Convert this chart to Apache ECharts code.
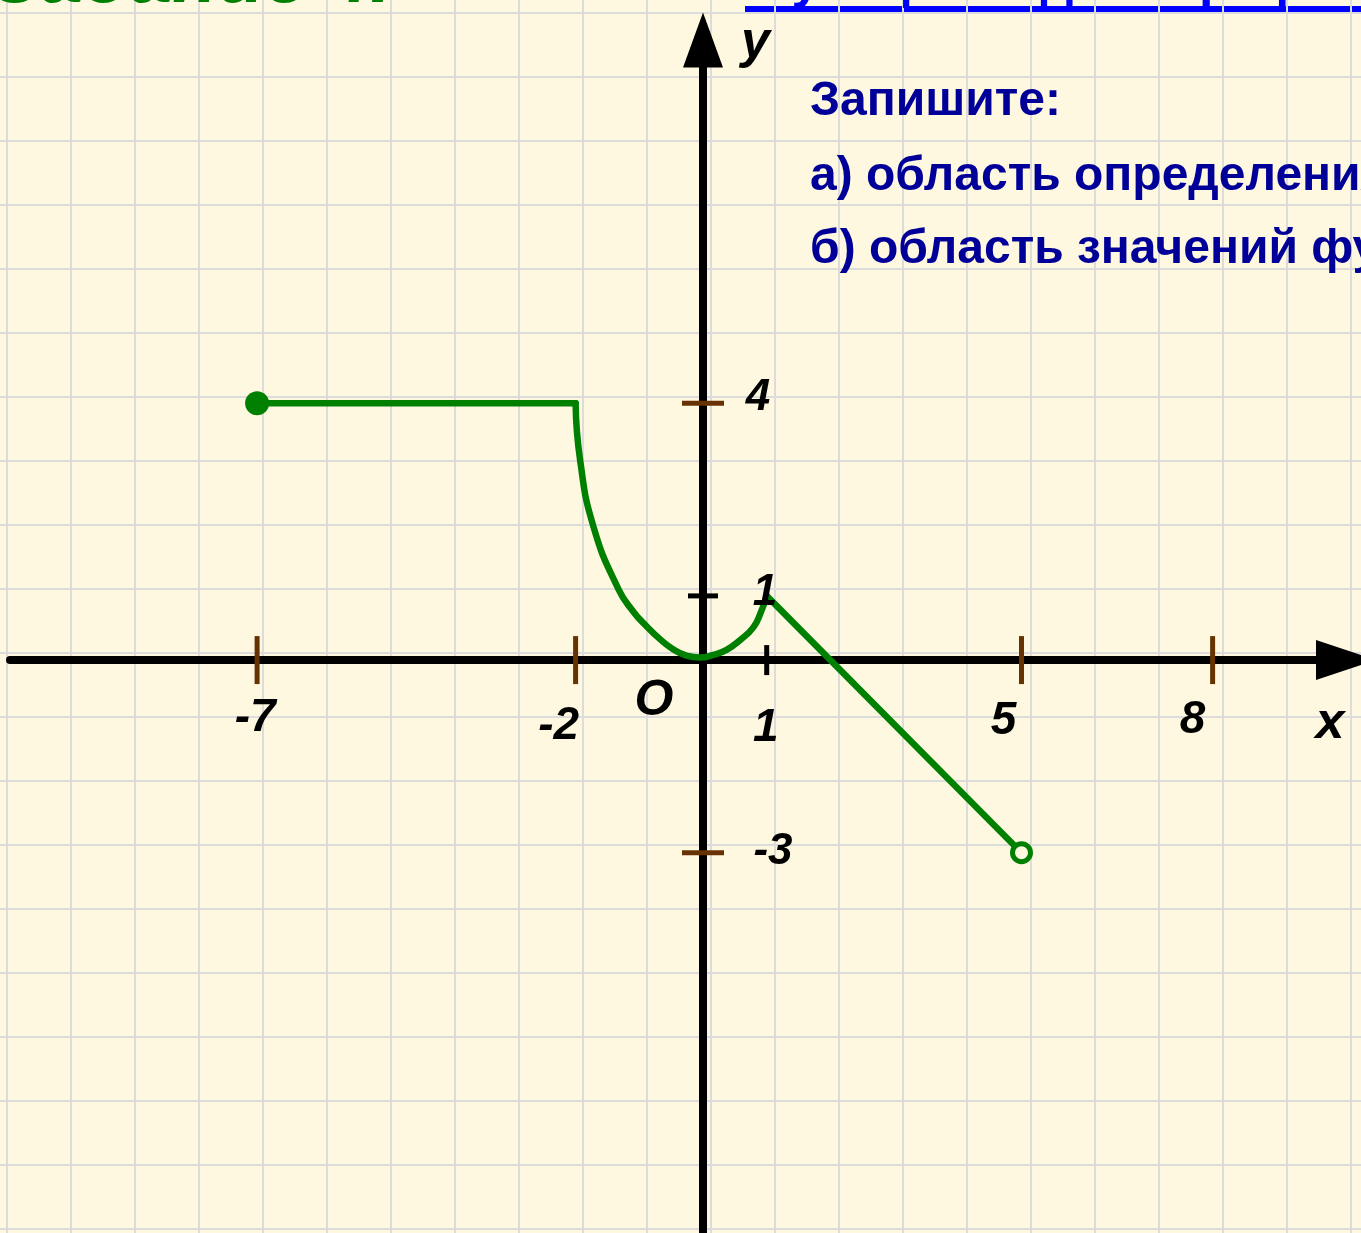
<!DOCTYPE html>
<html lang="ru">
<head>
<meta charset="UTF-8" />
<title>Функция задана графиком</title>
<script src="https://cdn.jsdelivr.net/npm/echarts@6.0.0/dist/echarts.min.js"></script>
<style>
  html, body { margin: 0; padding: 0; background: #fff8e1; }
  #chart { width: 1361px; height: 1233px; }
</style>
</head>
<body>
<div id="chart"></div>
<script>
  // куски графика функции
  var flatPart = [[-7, 4], [-2, 4]];
  var curvePart = [
    [-2, 4], [-1.93, 3.12], [-1.72, 2.08], [-1.33, 1.11], [-1.09, 0.75],
    [-0.88, 0.52], [-0.68, 0.33], [-0.47, 0.17], [-0.26, 0.07], [-0.05, 0.04],
    [0.16, 0.08], [0.37, 0.16], [0.58, 0.31], [0.79, 0.51], [0.91, 0.75], [1, 1]
  ];
  var slopePart = [[1, 1], [5, -3]];
  var closedEnd = [[-7, 4]];
  var openEnd = [[5, -3]];

  // отметки на осях
  var xTicks = [-7, -2, 5, 8];
  var xTickOne = [1];
  var yTicks = [4, -3];
  var yTickOne = [1];
  var xLabels = [-7, -2, 1, 5, 8];
  var yLabels = [4, 1, -3];

  var FONT = 'Liberation Sans';
  var GREEN = '#008000';
  var BROWN = '#663300';
  var PAPER = '#fff8e1';

  // сдвиг подписей от своих штрихов, px (как на слайде)
  var xLabelShift = { '-7': [-2, 58], '-2': [-17, 66], '1': [-1, 68], '5': [-18, 61], '8': [-20, 60] };
  var yLabelShift = { '4': [55, -5], '1': [62, -3], '-3': [70, -1] };

  var chart = echarts.init(document.getElementById('chart'));

  var italicBold = { fontFamily: FONT, fontStyle: 'italic', fontWeight: 'bold', color: '#000' };

  function tickSeries(points, size, color) {
    return {
      type: 'scatter',
      data: points,
      symbol: 'rect',
      symbolSize: size,
      itemStyle: { color: color, opacity: 1 },
      silent: true,
      z: 3
    };
  }

  function curveSeries(points, smooth) {
    return {
      type: 'line',
      data: points,
      smooth: smooth,
      symbol: 'none',
      lineStyle: { color: GREEN, width: 6.5, cap: 'round', join: 'round' },
      silent: true,
      z: 4
    };
  }

  function labelSeries(items, fontSize) {
    return {
      type: 'scatter',
      data: items,
      symbolSize: 1,
      itemStyle: { color: 'rgba(0,0,0,0)', opacity: 1 },
      label: Object.assign({
        show: true,
        position: 'inside',
        formatter: function (p) { return p.name; },
        fontSize: fontSize,
        align: 'center',
        verticalAlign: 'middle'
      }, italicBold),
      silent: true,
      z: 6
    };
  }

  var xLabelItems = xLabels.map(function (v) {
    return { name: String(v), value: [v, 0], label: { offset: xLabelShift[String(v)] } };
  });
  var yLabelItems = yLabels.map(function (v) {
    return { name: String(v), value: [0, v], label: { offset: yLabelShift[String(v)] } };
  });

  var titleStyle = { color: '#000099', fontSize: 48, fontWeight: 'bold', fontFamily: FONT };

  var option = {
    backgroundColor: PAPER,
    animation: false,
    title: [
      {
        text: 'Задание 4.',
        left: -8, top: -57, padding: 0,
        textStyle: { color: GREEN, fontSize: 76, fontWeight: 'bold', fontStyle: 'italic', fontFamily: FONT }
      },
      {
        text: 'Функция задана графиком',
        left: 747, top: -43, padding: 0,
        textStyle: { color: '#0000ff', fontSize: 52, fontWeight: 'bold', fontFamily: FONT }
      },
      { text: 'Запишите:', left: 810, top: 78, padding: 0, textStyle: titleStyle },
      { text: 'а) область определения функции;', left: 810, top: 153, padding: 0, textStyle: titleStyle },
      { text: 'б) область значений функции.', left: 810, top: 226, padding: 0, textStyle: titleStyle }
    ],
    // подчёркивание ссылки
    graphic: [
      { type: 'rect', shape: { x: 745, y: 6, width: 620, height: 6 }, style: { fill: '#0000ff' }, silent: true }
    ],
    grid: [
      { left: 10, right: 15, top: 40, bottom: 0, outerBoundsMode: 'none' },
      // клетка тетради
      { left: -57.3, top: -51.3, width: 1472, height: 1344, outerBoundsMode: 'none' }
    ],
    xAxis: [
      {
        type: 'value',
        min: -10.879,
        max: 10.094,
        z: 1,
        axisLine: {
          onZero: true,
          symbol: ['none', 'triangle'],
          symbolSize: [40, 60],
          lineStyle: { color: '#000', width: 8 }
        },
        axisTick: { show: false },
        splitLine: { show: false },
        axisLabel: { show: false },
        name: 'x',
        nameLocation: 'end',
        nameGap: -16,
        nameMoveOverlap: false,
        nameTextStyle: Object.assign({ fontSize: 52, align: 'center', verticalAlign: 'top', padding: [38, 0, 0, 0] }, italicBold)
      },
      {
        gridIndex: 1,
        type: 'value',
        min: 0,
        max: 23,
        interval: 1,
        z: 0,
        axisLine: { show: false },
        axisTick: { show: false },
        axisLabel: { show: false },
        splitLine: { show: true, lineStyle: { color: '#dcdcdc', width: 2 } }
      }
    ],
    yAxis: [
      {
        type: 'value',
        min: -8.925,
        max: 9.66,
        z: 1,
        axisLine: {
          onZero: true,
          symbol: ['none', 'triangle'],
          symbolSize: [40, 55],
          lineStyle: { color: '#000', width: 8 }
        },
        axisTick: { show: false },
        splitLine: { show: false },
        axisLabel: { show: false },
        name: 'y',
        nameLocation: 'end',
        nameGap: -3,
        nameMoveOverlap: false,
        nameTextStyle: Object.assign({ fontSize: 52, align: 'left', verticalAlign: 'middle', padding: [0, 0, 0, 38] }, italicBold)
      },
      {
        gridIndex: 1,
        type: 'value',
        min: 0,
        max: 21,
        interval: 1,
        z: 0,
        axisLine: { show: false },
        axisTick: { show: false },
        axisLabel: { show: false },
        splitLine: { show: true, lineStyle: { color: '#dcdcdc', width: 2 } }
      }
    ],
    series: [
      tickSeries(xTicks.map(function (v) { return [v, 0]; }), [5, 48], BROWN),
      tickSeries(xTickOne.map(function (v) { return [v, 0]; }), [5, 30], '#000'),
      tickSeries(yTicks.map(function (v) { return [0, v]; }), [42, 5], BROWN),
      tickSeries(yTickOne.map(function (v) { return [0, v]; }), [30, 5], '#000'),
      labelSeries(xLabelItems, 46),
      labelSeries(yLabelItems, 44),
      curveSeries(flatPart, false),
      curveSeries(curvePart, 0.5),
      curveSeries(slopePart, false),
      {
        type: 'scatter',
        data: closedEnd,
        symbolSize: 24,
        itemStyle: { color: GREEN, opacity: 1 },
        silent: true,
        z: 5
      },
      {
        type: 'scatter',
        data: openEnd,
        symbolSize: 18,
        itemStyle: { color: PAPER, borderColor: GREEN, borderWidth: 5, opacity: 1 },
        silent: true,
        z: 5
      },
      // подпись начала координат
      labelSeries([{ name: 'O', value: [0, 0], label: { offset: [-49, 41] } }], 50)
    ]
  };

  chart.setOption(option);
</script>
</body>
</html>
